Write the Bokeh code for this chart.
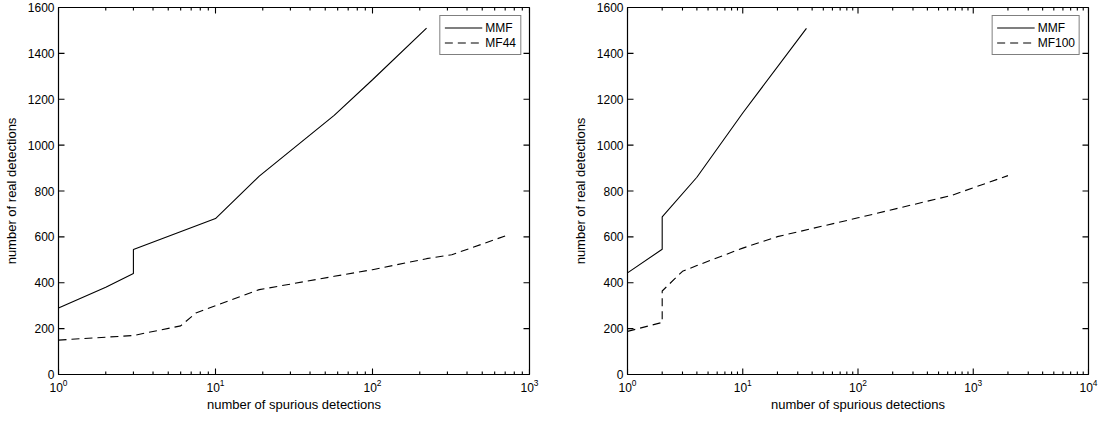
import math
from bokeh.plotting import figure
from bokeh.layouts import row
from bokeh.models import (LogTicker, SingleIntervalTicker, Legend, LegendItem, Range1d)
from bokeh.embed import file_html
from bokeh.resources import INLINE

# ---- data ----
left_mmf_x = [1, 2, 3, 3, 10, 19, 57, 100, 221]
left_mmf_y = [290, 380, 440, 545, 680, 865, 1130, 1285, 1510]
left_mf44_x = [1, 3, 6, 7.5, 10, 19, 57, 100, 221, 320, 700]
left_mf44_y = [150, 170, 212, 268, 300, 370, 428, 457, 505, 522, 604]

right_mmf_x = [1, 2, 2, 4, 10, 35.7]
right_mmf_y = [443, 546, 687, 860, 1140, 1509]
right_mf100_x = [1, 2, 2, 3, 4, 10, 20, 100, 650, 2000]
right_mf100_y = [188, 227, 364, 450, 475, 551, 601, 683, 781, 867]

y_ticks = [0, 200, 400, 600, 800, 1000, 1200, 1400, 1600]
x_label = "number of spurious detections"
y_label = "number of real detections"

FONT = "Liberation Sans"
FRAME_H = 367
TICK_MAJOR = 6
TICK_MINOR = 3


def make_fig(xmax, frame_w, bl, br, mmf, mf, mf_name):
    ymin, ymax = 0, 1600
    p = figure(x_axis_type="log", x_range=Range1d(1, xmax), y_range=Range1d(ymin, ymax),
               frame_width=frame_w, frame_height=FRAME_H,
               min_border_left=bl, min_border_right=br, min_border_top=7, min_border_bottom=10,
               output_backend="svg", toolbar_location=None,
               background_fill_color="white", border_fill_color="white")
    p.xgrid.visible = False
    p.ygrid.visible = False
    p.outline_line_color = "black"
    p.outline_line_width = 1.2

    # MATLAB-style inward ticks on all four sides, lengths converted from pixels
    ndec = math.log10(xmax)
    x_major = [10 ** k for k in range(int(round(ndec)) + 1)]
    x_minor = [m * 10 ** k for k in range(int(round(ndec))) for m in range(2, 10)]
    dy_major = TICK_MAJOR * (ymax - ymin) / FRAME_H
    dy_minor = TICK_MINOR * (ymax - ymin) / FRAME_H
    for xs, dy in ((x_major, dy_major), (x_minor, dy_minor)):
        p.segment(x0=xs, y0=[ymin] * len(xs), x1=xs, y1=[ymin + dy] * len(xs),
                  line_color="black", line_width=1.1)
        p.segment(x0=xs, y0=[ymax] * len(xs), x1=xs, y1=[ymax - dy] * len(xs),
                  line_color="black", line_width=1.1)
    fx = 10 ** (TICK_MAJOR * ndec / frame_w)
    n = len(y_ticks)
    p.segment(x0=[1] * n, y0=y_ticks, x1=[fx] * n, y1=y_ticks, line_color="black", line_width=1.1)
    p.segment(x0=[xmax] * n, y0=y_ticks, x1=[xmax / fx] * n, y1=y_ticks,
              line_color="black", line_width=1.1)

    r1 = p.line(mmf[0], mmf[1], line_color="black", line_width=1.1)
    r2 = p.line(mf[0], mf[1], line_color="black", line_width=1.1, line_dash="8 5")

    xa = p.xaxis[0]
    ya = p.yaxis[0]
    xa.ticker = LogTicker(num_minor_ticks=10)
    ya.ticker = SingleIntervalTicker(interval=200, num_minor_ticks=0)
    for ax in (xa, ya):
        ax.major_tick_in = 0
        ax.major_tick_out = 0
        ax.minor_tick_in = 0
        ax.minor_tick_out = 0
        ax.major_tick_line_color = None
        ax.minor_tick_line_color = None
        ax.axis_line_color = "black"
        ax.major_label_text_font = FONT
        ax.major_label_text_font_size = "12px"
        ax.major_label_text_color = "black"
        ax.axis_label_text_font = FONT
        ax.axis_label_text_font_size = "13px"
        ax.axis_label_text_font_style = "normal"
        ax.axis_label_text_color = "black"
    xa.axis_label = x_label
    ya.axis_label = y_label
    xa.major_label_standoff = 4
    ya.major_label_standoff = 4
    xa.axis_label_standoff = 2
    ya.axis_label_standoff = 6

    legend = Legend(items=[LegendItem(label="MMF", renderers=[r1]),
                           LegendItem(label=mf_name, renderers=[r2])],
                    location="top_right")
    legend.margin = 8
    legend.padding = 4
    legend.spacing = 0
    legend.glyph_width = 38
    legend.glyph_height = 15
    legend.label_standoff = 3
    legend.label_height = 15
    legend.label_text_font = FONT
    legend.label_text_font_size = "12px"
    legend.label_text_color = "black"
    legend.border_line_color = "black"
    legend.border_line_width = 1.5
    legend.background_fill_color = "white"
    legend.background_fill_alpha = 1
    p.add_layout(legend, "center")
    return p


p1 = make_fig(1000, 471, 52, 40, (left_mmf_x, left_mmf_y), (left_mf44_x, left_mf44_y), "MF44")
p2 = make_fig(10000, 461, 52, 10, (right_mmf_x, right_mmf_y), (right_mf100_x, right_mf100_y), "MF100")

layout = row(p1, p2)
open("out.html", "w").write(file_html(layout, INLINE))
